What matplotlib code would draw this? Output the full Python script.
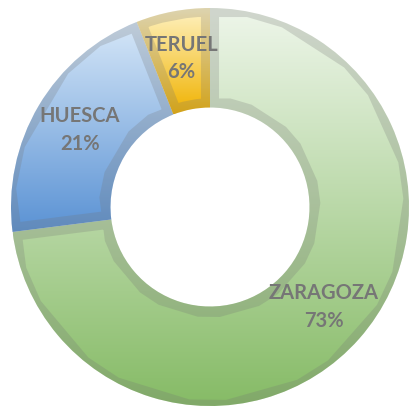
import numpy as np
import matplotlib.pyplot as plt
from matplotlib.colors import LinearSegmentedColormap

provincias = ['ZARAGOZA', 'HUESCA', 'TERUEL']
porcentajes = [73, 21, 6]

# top colour -> bottom colour of each slice gradient
grad_top = ['#eef6ea', '#d6e7f8', '#fff3c4']
grad_bottom = ['#86bb66', '#5a92d4', '#f0b200']

fig = plt.figure(figsize=(4.12, 4.12), dpi=100)
cx, cy, r = 210 / 412, (412 - 207) / 412, 199 / 412
ax = fig.add_axes([cx - r, cy - r, 2 * r, 2 * r])

wedges, _ = ax.pie(porcentajes, startangle=90, counterclock=False, radius=1,
                   wedgeprops=dict(width=0.5, linewidth=0))
ax.set_xlim(-1, 1)
ax.set_ylim(-1, 1)
ax.set_aspect('equal')
ax.axis('off')

for w, c0, c1 in zip(wedges, grad_top, grad_bottom):
    w.set_facecolor('none')
    ext = w.get_path().get_extents()
    cmap = LinearSegmentedColormap.from_list('g', [c1, c0])
    grad = np.linspace(0, 1, 256).reshape(-1, 1)
    im = ax.imshow(grad, cmap=cmap, origin='lower', aspect='auto',
                   extent=[ext.x0, ext.x1, ext.y0, ext.y1], zorder=1)
    im.set_clip_path(w)
    # darker translucent border drawn inside the slice
    edge = plt.Polygon(w.get_path().vertices, closed=True, fill=False,
                       edgecolor=(0.45, 0.45, 0.45, 0.24), linewidth=13, zorder=2)
    ax.add_patch(edge)
    edge.set_clip_path(w)

# labels
ang = 90.0
for name, p in zip(provincias, porcentajes):
    mid = np.deg2rad(ang - p * 3.6 / 2)
    ang -= p * 3.6
    x, y = 0.76 * np.cos(mid), 0.76 * np.sin(mid)
    ax.text(x, y, f'{name}\n{p}%', ha='center', va='center', fontsize=14.5,
            fontweight='bold', color='#767676', family='Lato',
            linespacing=1.45, zorder=3)

fig.savefig('out.png', dpi=100)
